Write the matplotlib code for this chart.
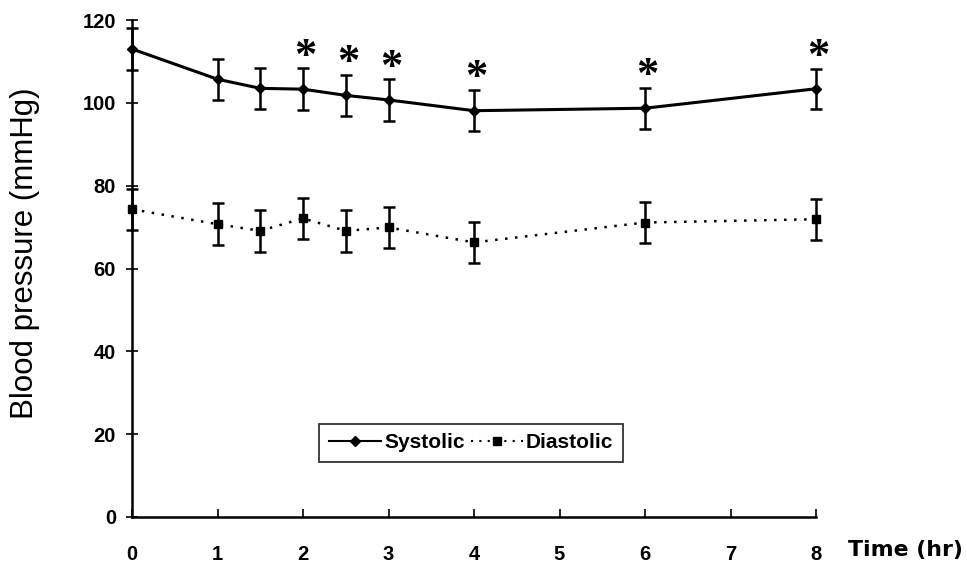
import matplotlib
matplotlib.use("Agg")
import matplotlib.pyplot as plt
from matplotlib.lines import Line2D
import numpy as np

plt.rcParams['font.family'] = ['Liberation Sans', 'DejaVu Sans']

time_hr = [0, 1, 1.5, 2, 2.5, 3, 4, 6, 8]
systolic = [113.0, 105.7, 103.5, 103.3, 101.8, 100.7, 98.1, 98.7, 103.4]
systolic_sd = [5.0, 5.0, 5.0, 5.0, 5.0, 5.0, 5.0, 5.0, 4.8]
diastolic = [74.3, 70.7, 69.1, 72.1, 69.1, 69.9, 66.3, 71.1, 71.9]
diastolic_sd = [5.0, 5.1, 5.0, 5.0, 5.0, 5.0, 5.0, 5.0, 5.0]
significant = [False, False, False, True, True, True, True, True, True]

x_ticks = [0, 1, 2, 3, 4, 5, 6, 7, 8]
y_ticks = [0, 20, 40, 60, 80, 100, 120]

fig = plt.figure(figsize=(9.67, 5.75), dpi=100)
ax = fig.add_axes([132/967, 58/575, (816-132)/967, (517-20)/575])

dot = (0, (1, 3))
e1 = ax.errorbar(time_hr, systolic, yerr=systolic_sd, color='black', lw=2.2,
                 marker='D', ms=5, capsize=4, capthick=1.8, elinewidth=1.8)
e2 = ax.errorbar(time_hr, diastolic, yerr=diastolic_sd, color='black', lw=1.8,
                 ls=dot, marker='s', ms=6, capsize=4, capthick=1.8,
                 elinewidth=1.8)
for e in (e1, e2):
    e[0].set_clip_on(False)
    for c in e[1]:
        c.set_clip_on(False)
    for c in e[2]:
        c.set_clip_on(False)

for t, s, sd, sig in zip(time_hr, systolic, systolic_sd, significant):
    if sig:
        ax.text(t + 0.03, s + sd + 2.8, '*', ha='center', va='center',
                fontsize=32, fontweight='bold', family='Liberation Serif')

ax.set_xlim(0, 8)
ax.set_ylim(0, 120)
ax.set_xticks(x_ticks)
ax.set_yticks(y_ticks)
for s in ['top', 'right']:
    ax.spines[s].set_visible(False)
for s in ['left', 'bottom']:
    ax.spines[s].set_linewidth(1.8)
ax.tick_params(axis='y', direction='inout', length=9, width=1.2,
               labelsize=14.5, pad=7)
ax.tick_params(axis='x', direction='in', length=6, width=1.2,
               labelsize=14.5, pad=20)
for lab in ax.get_xticklabels() + ax.get_yticklabels():
    lab.set_fontweight('bold')

fig.text(25/967, 1 - 253/575, 'Blood pressure (mmHg)', fontsize=22.5,
         rotation=90, ha='center', va='center')
fig.text(848/967, 1 - 550/575, 'Time (hr)', fontsize=15.8, fontweight='bold',
         family='DejaVu Sans', ha='left', va='center')

h1 = Line2D([], [], color='black', lw=1.5, marker='D', ms=5)
h2 = Line2D([], [], color='black', lw=1.5, ls=dot, marker='s', ms=6)
leg = ax.legend([h1, h2], ['Systolic', 'Diastolic'], loc='center',
                bbox_to_anchor=(471/967, 1 - 443/575),
                bbox_transform=fig.transFigure, ncol=2, frameon=True,
                fancybox=False, edgecolor='black',
                handlelength=2.5, handletextpad=0.15, columnspacing=0.3,
                borderpad=0.45, borderaxespad=0,
                prop={'weight': 'bold', 'size': 15})
leg.get_frame().set_linewidth(1.3)

fig.savefig('out.png', dpi=100)
